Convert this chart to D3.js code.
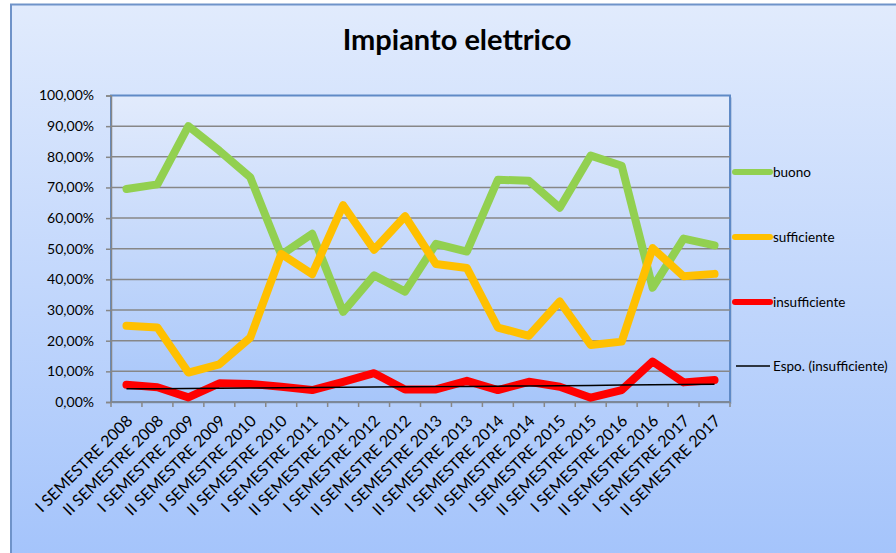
<!DOCTYPE html>
<html>
<head>
<meta charset="utf-8">
<script src="https://cdn.jsdelivr.net/npm/d3@7"></script>
<style>
  body { margin: 0; background: #fff; }
  text { font-family: Lato, "Open Sans", sans-serif; fill: #000; }
</style>
</head>
<body>
<svg width="896" height="553"></svg>
<script>
const categories = [
  'I SEMESTRE 2008', 'II SEMESTRE 2008', 'I SEMESTRE 2009', 'II SEMESTRE 2009',
  'I SEMESTRE 2010', 'II SEMESTRE 2010', 'I SEMESTRE 2011', 'II SEMESTRE 2011',
  'I SEMESTRE 2012', 'II SEMESTRE 2012', 'I SEMESTRE 2013', 'II SEMESTRE 2013',
  'I SEMESTRE 2014', 'II SEMESTRE 2014', 'I SEMESTRE 2015', 'II SEMESTRE 2015',
  'I SEMESTRE 2016', 'II SEMESTRE 2016', 'I SEMESTRE 2017', 'II SEMESTRE 2017'
];
const buono = [0.695, 0.71, 0.90, 0.82, 0.733, 0.48, 0.549, 0.294, 0.413, 0.36,
  0.516, 0.491, 0.725, 0.722, 0.634, 0.804, 0.771, 0.373, 0.533, 0.511];
const sufficiente = [0.249, 0.243, 0.096, 0.123, 0.21, 0.483, 0.417, 0.642, 0.497, 0.606,
  0.45, 0.437, 0.243, 0.216, 0.328, 0.186, 0.197, 0.502, 0.41, 0.418];
const insufficiente = [0.056, 0.048, 0.015, 0.061, 0.059, 0.05, 0.039, 0.066, 0.094, 0.041,
  0.041, 0.069, 0.039, 0.066, 0.05, 0.014, 0.039, 0.132, 0.064, 0.072];
const yTicks = [0, 0.1, 0.2, 0.3, 0.4, 0.5, 0.6, 0.7, 0.8, 0.9, 1];

const svg = d3.select('svg');
const width = +svg.attr('width');
const height = +svg.attr('height');

const defs = svg.append('defs');
const bgGrad = defs.append('linearGradient')
    .attr('id', 'bg').attr('x1', 0).attr('y1', 0).attr('x2', 0).attr('y2', 1);
bgGrad.append('stop').attr('offset', '0%').attr('stop-color', '#e1ebfd');
bgGrad.append('stop').attr('offset', '100%').attr('stop-color', '#a3c3fb');

const plotGrad = defs.append('linearGradient')
    .attr('id', 'plotbg').attr('x1', 0).attr('y1', 0).attr('x2', 0).attr('y2', 1);
plotGrad.append('stop').attr('offset', '0%').attr('stop-color', '#e2ebfc');
plotGrad.append('stop').attr('offset', '100%').attr('stop-color', '#a7c6fa');

// chart area
svg.append('rect')
    .attr('x', 11).attr('y', 4.5)
    .attr('width', width + 10).attr('height', height + 10)
    .attr('fill', 'url(#bg)')
    .attr('stroke', '#6f93c9')
    .attr('stroke-width', 2);

svg.append('text')
    .attr('x', 457).attr('y', 50)
    .attr('text-anchor', 'middle')
    .style('font-size', '29px')
    .style('font-weight', 'bold')
    .text('Impianto elettrico');

const margin = { left: 111, right: 730, top: 95.5, bottom: 402 };

const x = d3.scaleBand()
    .domain(categories)
    .range([margin.left, margin.right]);

const y = d3.scaleLinear()
    .domain([0, 1])
    .range([margin.bottom, margin.top]);

// plot area shadow + fill
svg.append('rect')
    .attr('x', margin.left + 2).attr('y', margin.top + 2)
    .attr('width', margin.right - margin.left).attr('height', margin.bottom - margin.top)
    .attr('fill', '#9fb6d8').attr('opacity', 0.6);
svg.append('rect')
    .attr('x', margin.left).attr('y', margin.top)
    .attr('width', margin.right - margin.left).attr('height', margin.bottom - margin.top)
    .attr('fill', 'url(#plotbg)')
    .attr('stroke', '#5f8ac6')
    .attr('stroke-width', 2);

// gridlines
svg.append('g')
  .selectAll('line')
  .data(yTicks.slice(1, -1))
  .join('line')
    .attr('x1', margin.left).attr('x2', margin.right)
    .attr('y1', d => y(d)).attr('y2', d => y(d))
    .attr('stroke', '#878787')
    .attr('stroke-width', 1.5);

const fmt = d => d3.format('.2f')(d * 100).replace('.', ',') + '%';

const yAxis = svg.append('g')
    .attr('transform', `translate(${margin.left}, 0)`)
    .call(d3.axisLeft(y).tickValues(yTicks).tickFormat(fmt).tickSize(5).tickPadding(12));
yAxis.select('.domain').attr('stroke', '#878787').attr('stroke-width', 1.5);
yAxis.selectAll('.tick line').attr('stroke', '#878787').attr('stroke-width', 1.5);
yAxis.selectAll('text').style('font-size', '14px').attr('fill', '#000');

// x axis
const xAxis = svg.append('g')
    .attr('transform', `translate(0, ${margin.bottom})`);
xAxis.append('line')
    .attr('x1', margin.left).attr('x2', margin.right)
    .attr('stroke', '#878787').attr('stroke-width', 1.5);
xAxis.selectAll('line.tk')
  .data(categories)
  .join('line')
    .attr('class', 'tk')
    .attr('x1', d => x(d) + x.bandwidth()).attr('x2', d => x(d) + x.bandwidth())
    .attr('y1', 0).attr('y2', 5)
    .attr('stroke', '#878787').attr('stroke-width', 1.5);
xAxis.append('line')
    .attr('x1', margin.left).attr('x2', margin.left)
    .attr('y1', 0).attr('y2', 5)
    .attr('stroke', '#878787').attr('stroke-width', 1.5);
xAxis.selectAll('text')
  .data(categories)
  .join('text')
    .attr('transform', d => `translate(${x(d) + x.bandwidth() / 2 + 3}, 16) rotate(-45)`)
    .attr('text-anchor', 'end')
    .attr('dy', '0.35em')
    .style('font-size', '16px')
    .text(d => d);

const line = d3.line()
    .x((d, i) => x(categories[i]) + x.bandwidth() / 2)
    .y(d => y(d));

const series = [
  { name: 'buono', values: buono, color: '#92d050' },
  { name: 'sufficiente', values: sufficiente, color: '#ffc000' },
  { name: 'insufficiente', values: insufficiente, color: '#ff0000' }
];

svg.append('g')
  .selectAll('path')
  .data(series)
  .join('path')
    .attr('d', d => line(d.values))
    .attr('fill', 'none')
    .attr('stroke', d => d.color)
    .attr('stroke-width', 8)
    .attr('stroke-linejoin', 'round')
    .attr('stroke-linecap', 'round');

// exponential trendline fitted on insufficiente (ln y = a + b*x)
const n = insufficiente.length;
const xs = d3.range(1, n + 1);
const ly = insufficiente.map(Math.log);
const mx = d3.mean(xs), my = d3.mean(ly);
const b = d3.sum(xs, (v, i) => (v - mx) * (ly[i] - my)) / d3.sum(xs, v => (v - mx) ** 2);
const a = my - b * mx;
const trend = xs.map(v => Math.exp(a + b * v));

svg.append('path')
    .attr('d', line(trend))
    .attr('fill', 'none')
    .attr('stroke', '#000')
    .attr('stroke-width', 1.5);

// legend
const legendItems = [
  { name: 'buono', color: '#92d050', w: 6, y: 172 },
  { name: 'sufficiente', color: '#ffc000', w: 6, y: 237 },
  { name: 'insufficiente', color: '#ff0000', w: 6, y: 302 },
  { name: 'Espo. (insufficiente)', color: '#000', w: 1.5, y: 366 }
];
const legend = svg.append('g');
legend.selectAll('line')
  .data(legendItems)
  .join('line')
    .attr('x1', d => d.w > 2 ? 735 : 736).attr('x2', 770)
    .attr('y1', d => d.y).attr('y2', d => d.y)
    .attr('stroke', d => d.color)
    .attr('stroke-width', d => d.w)
    .attr('stroke-linecap', d => d.w > 2 ? 'round' : 'butt');
legend.selectAll('text')
  .data(legendItems)
  .join('text')
    .attr('x', 773)
    .attr('y', d => d.y)
    .attr('dy', '0.35em')
    .style('font-size', '13.5px')
    .text(d => d.name);
</script>
</body>
</html>
